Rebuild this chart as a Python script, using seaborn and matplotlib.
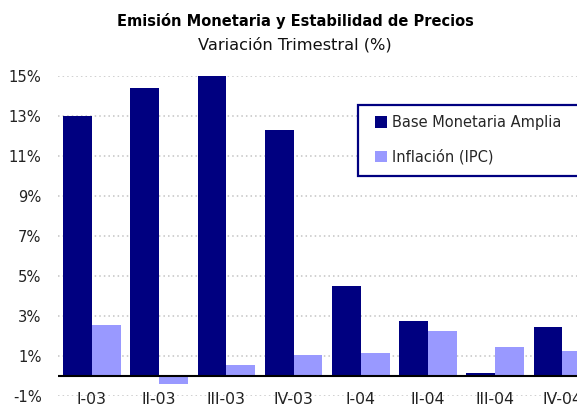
import pandas as pd
import matplotlib
matplotlib.use("Agg")
import matplotlib.pyplot as plt
from matplotlib.patches import Rectangle
import seaborn as sns

# Datos del grafico (variacion trimestral, %)
categorias = ['I-03', 'II-03', 'III-03', 'IV-03', 'I-04', 'II-04', 'III-04', 'IV-04']
base_monetaria = [13.0, 14.4, 15.07, 12.3, 4.53, 2.74, 0.15, 2.44]
inflacion = [2.54, -0.38, 0.55, 1.04, 1.14, 2.24, 1.44, 1.24]
series = ['Base Monetaria Amplia', 'Inflación (IPC)']
colores = ['#000080', '#9999FF']
yticks = [-1, 1, 3, 5, 7, 9, 11, 13, 15]

df = pd.DataFrame({
    'Trimestre': categorias * 2,
    'Serie': [series[0]] * len(categorias) + [series[1]] * len(categorias),
    'Valor': base_monetaria + inflacion,
})

sns.set_style("white")
plt.rcParams['font.family'] = ['DejaVu Sans']

fig = plt.figure(figsize=(5.77, 4.08), dpi=100)
ax = fig.add_axes([58.4 / 577, 12 / 408, (596 - 58.4) / 577, (332.5 - 12) / 408])

sns.barplot(data=df, x='Trimestre', y='Valor', hue='Serie', order=categorias,
            hue_order=series, palette=colores, saturation=1, width=0.86,
            linewidth=0, ax=ax)

ax.set_xlim(-0.5, 7.5)
ax.set_ylim(-1, 15.05)
ax.set_yticks(yticks)
ax.set_yticklabels([f"{v}%" for v in yticks], fontsize=10.6, color='#222222')
ax.tick_params(axis='y', length=0, pad=12)
ax.tick_params(axis='x', length=0, pad=-3, labelsize=11.3, labelcolor='#222222')
ax.set_xlabel('')
ax.set_ylabel('')
for s in ax.spines.values():
    s.set_visible(False)

# lineas de grilla punteadas
for v in yticks:
    ax.axhline(v, color='#c4c4c4', linestyle=(0, (1, 2)), linewidth=1.1, zorder=0)
ax.axhline(0, color='black', linewidth=1.5, zorder=3)

# leyenda (el recuadro se sale del borde derecho, como en el original)
handles, labels = ax.get_legend_handles_labels()
leg = ax.legend(handles, labels, loc='upper left', bbox_to_anchor=(375 / 577, 1 - 115 / 408),
                bbox_transform=fig.transFigure, fontsize=10.5, frameon=False,
                handlelength=0.85, handleheight=0.85, handletextpad=0.35,
                labelspacing=1.3, borderpad=0, borderaxespad=0)
leg.set_zorder(6)
caja = Rectangle((358 / 577, 1 - 176 / 408), 260 / 577, 71 / 408,
                 transform=fig.transFigure, facecolor='white',
                 edgecolor='#000080', linewidth=1.6, zorder=5, clip_on=False)
ax.add_artist(caja)

fig.text(295 / 577, 1 - 21 / 408, 'Emisión Monetaria y Estabilidad de Precios',
         ha='center', va='center', fontsize=10.5, fontweight='bold', color='black')
fig.text(295 / 577, 1 - 45 / 408, 'Variación Trimestral (%)',
         ha='center', va='center', fontsize=11.7, color='#111111')

fig.savefig('out.png', dpi=100)
